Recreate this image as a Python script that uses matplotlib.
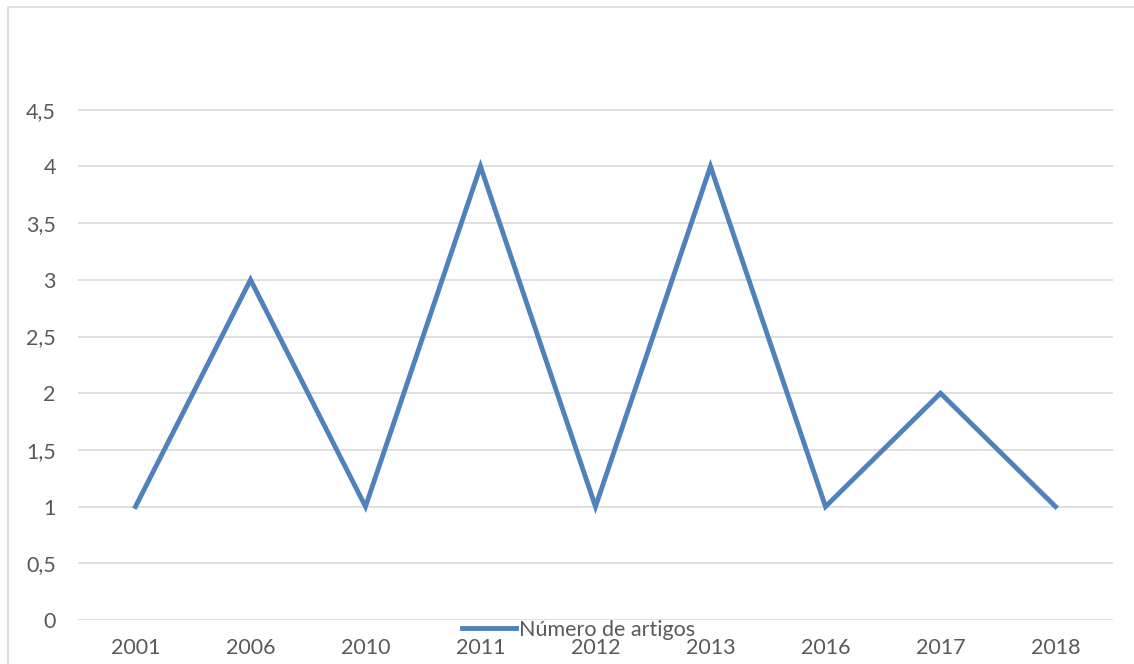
import matplotlib
matplotlib.use('Agg')
import matplotlib.pyplot as plt
from matplotlib.patches import Rectangle

years = ['2001', '2006', '2010', '2011', '2012', '2013', '2016', '2017', '2018']
artigos = [1, 3, 1, 4, 1, 4, 1, 2, 1]
yticks = [0, 0.5, 1, 1.5, 2, 2.5, 3, 3.5, 4, 4.5]
ylabels = ['0', '0,5', '1', '1,5', '2', '2,5', '3', '3,5', '4', '4,5']

plt.rcParams['font.family'] = ['Lato', 'DejaVu Sans']

W, H = 1134, 664
fig = plt.figure(figsize=(W / 100, H / 100), dpi=100)
ax = fig.add_axes([78 / W, 1 - 620 / H, (1113 - 78) / W, (620 - 53) / H])

# chart border (cut at right and bottom like the screenshot)
fig.patches.append(Rectangle((8 / W, -0.1), 1.2, 1 - 7 / H + 0.1, transform=fig.transFigure,
                             fill=False, edgecolor='#d9d9d9', lw=1.2))

x = range(len(years))
line, = ax.plot(x, artigos, color='#4f81bd', lw=3.5, solid_joinstyle='miter', label='Número de artigos')

ax.set_xlim(-0.5, len(years) - 0.5)
ax.set_ylim(0, 5)
ax.set_yticks(yticks)
ax.set_yticklabels(ylabels)
ax.set_xticks(list(x))
ax.set_xticklabels(years)
ax.grid(axis='y', color='#d9d9d9', lw=1.2)
ax.set_axisbelow(True)
for s in ax.spines.values():
    s.set_visible(False)
ax.tick_params(axis='both', length=0, labelsize=15.5, labelcolor='#595959')
ax.tick_params(axis='y', pad=16)
ax.tick_params(axis='x', pad=13)

fig.legend(handles=[line], loc='center', bbox_to_anchor=(579 / W, 1 - 630 / H), frameon=False,
           fontsize=15.5, labelcolor='#595959', handlelength=2.5, handletextpad=0.15,
           borderaxespad=0, borderpad=0)

fig.savefig('out.png', dpi=100, facecolor='white')
